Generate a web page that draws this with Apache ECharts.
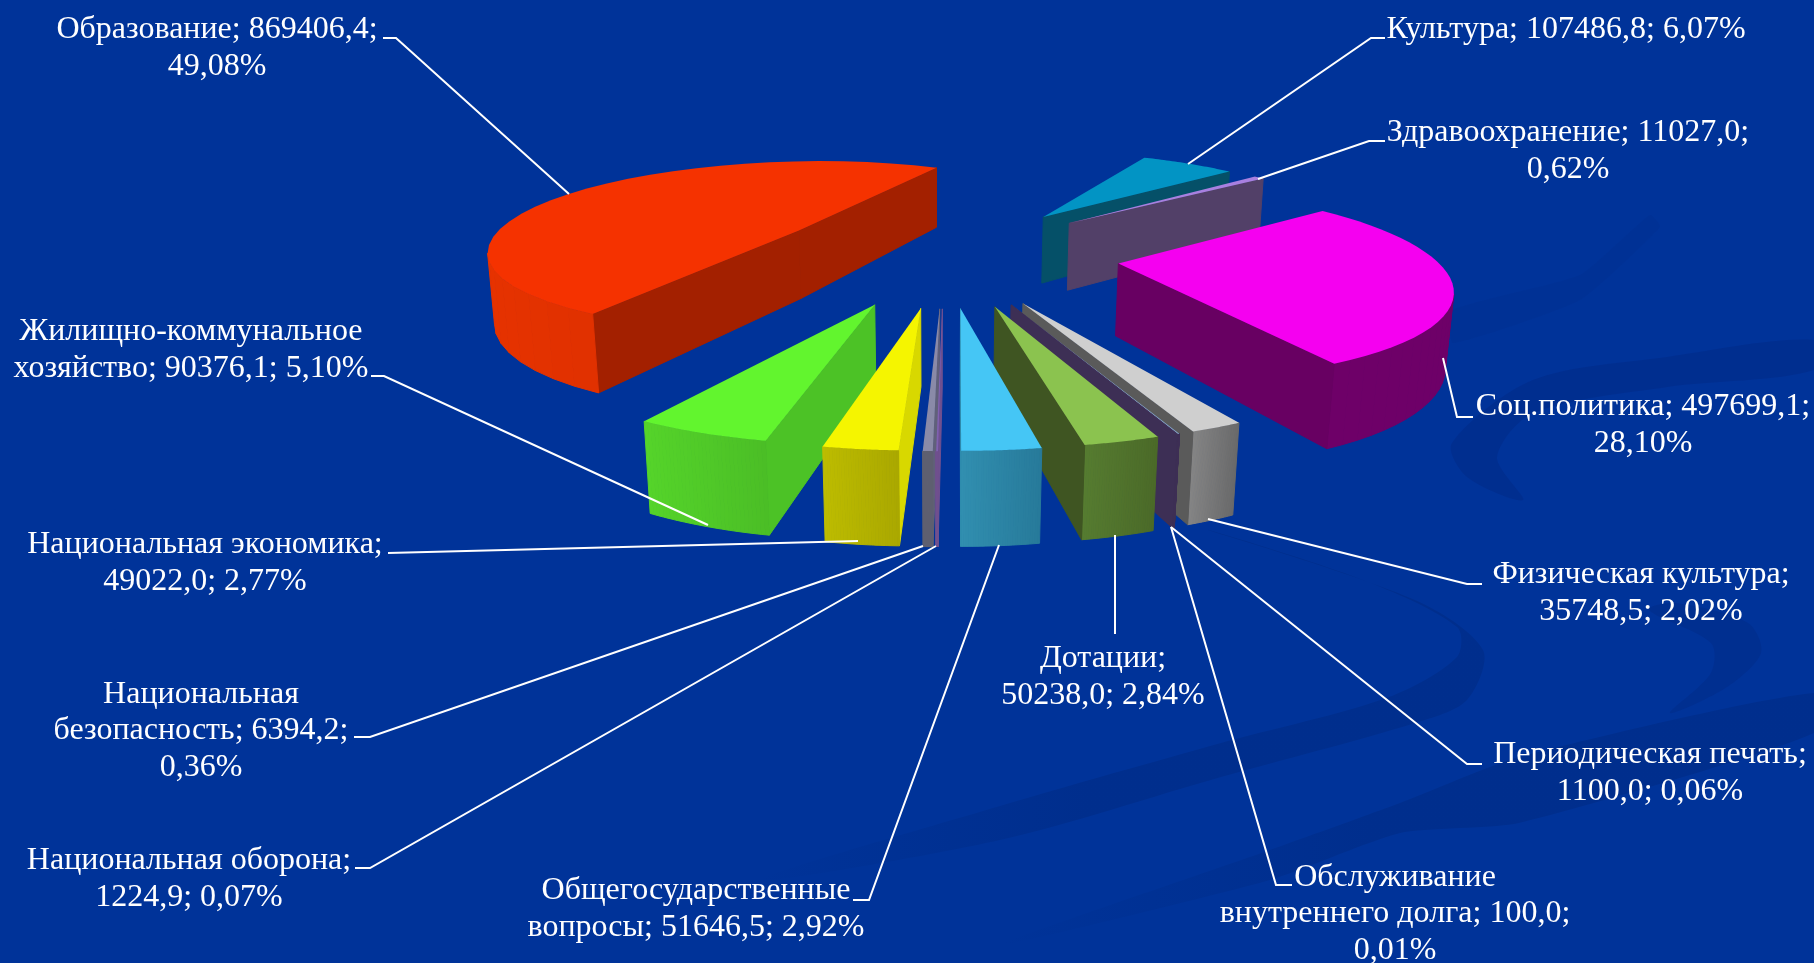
<!DOCTYPE html>
<html><head><meta charset="utf-8">
<style>html,body{margin:0;padding:0;background:#003399}#c{width:1814px;height:963px}</style>
<script src="https://cdn.jsdelivr.net/npm/echarts@6/dist/echarts.min.js"></script></head>
<body><div id="c"></div><script>
const categories=['Культура','Здравоохранение','Соц.политика','Физическая культура','Периодическая печать','Обслуживание внутреннего долга','Дотации','Общегосударственные вопросы','Национальная оборона','Национальная безопасность','Национальная экономика','Жилищно-коммунальное хозяйство','Образование'];
const values=[107486.8,11027.0,497699.1,35748.5,1100.0,100.0,50238.0,51646.5,1224.9,6394.2,49022.0,90376.1,869406.4];
const percents=['6,07','0,62','28,10','2,02','0,06','0,01','2,84','2,92','0,07','0,36','2,77','5,10','49,08'];

// perspective camera of the 3D pie: 3x4 projection of ground (u,v,z), start angle, explosion
const camera=[238.256792,273.223165,-14.576473,944.387774,14.343872,-39.838038,-76.078442,253.198514,-0.061918,0.178245,-0.015542];
const startAngle=0.132144, explosion=0.553015, seg=32;

const total=values.reduce((a,b)=>a+b,0);
const frac=[];let acc=0;values.forEach(v=>{frac.push([acc/total,(acc+v)/total]);acc+=v;});
function proj(u,v,z){const p=camera;const w=p[8]*u+p[9]*v+p[10]*z+1;return [(p[0]*u+p[1]*v+p[2]*z+p[3])/w,(p[4]*u+p[5]*v+p[6]*z+p[7])/w];}
function outline(i){const f=frac[i];const m=startAngle+Math.PI*(f[0]+f[1]);const ax=explosion*Math.sin(m),ay=explosion*Math.cos(m);const pts=[[ax,ay]];
 for(let k=0;k<=seg;k++){const ph=startAngle+2*Math.PI*(f[0]+(f[1]-f[0])*k/seg);pts.push([ax+Math.sin(ph),ay+Math.cos(ph)]);}return pts;}
// top, radial wall, rim left, rim right
const palette=[
['#0294C4','#055068','#055068','#055068'],['#A880E0','#524068','#524068','#524068'],['#F500F0','#680062','#6E0068','#6E0068'],
['#CFCFCF','#5A5A5A','#858585','#6A6A6A'],['#7F9CC0','#3D2F55','#3D2F55','#3D2F55'],['#5E4A80','#3D2F55','#3D2F55','#3D2F55'],
['#8BC34F','#3F5522','#567C30','#4B6A28'],['#45C6F5','#2F8DAE','#318FB0','#277A9A'],['#8060B0','#70508F','#70508F','#70508F'],
['#8A8AA8','#60607A','#5F6070','#5F6070'],['#F5F500','#D8D800','#BDBC00','#AAA800'],['#62F52E','#4CC226','#55D42A','#4BBE26'],['#F53200','#A32000','#E63200','#CC2E00']];
const order=[12,0,1,2,3,4,5,6,11,10,9,8,7];
const labelFont='32px "Liberation Serif"';
const labelLayout=[
{c:[1566,30],b:[],l:[[1385,38],[1371,38],[1188,164]]},
{c:[1568,151],b:[2],l:[[1385,141],[1369,141],[1258,179]]},
{c:[1643,425],b:[2],l:[[1473,417],[1457,417],[1443,358]]},
{c:[1641,593],b:[2],l:[[1482,584],[1467,584],[1208,519]]},
{c:[1650,773],b:[2],l:[[1482,764],[1467,764],[1171,527]]},
{c:[1395,914],b:[1,4],l:[[1292,885],[1276,885],[1171,527]]},
{c:[1103,677],b:[1],l:[[1115,634],[1115,535]]},
{c:[696,909],b:[1],l:[[853,900],[869,900],[999,545]]},
{c:[189,879],b:[2],l:[[355,868],[370,868],[936,546]]},
{c:[201,731],b:[1,3],l:[[354,737],[370,737],[923,546]]},
{c:[205,563],b:[2],l:[[388,553],[858,541]]},
{c:[191,350],b:[1],l:[[371,376],[384,376],[708,525]]},
{c:[217,48],b:[2],l:[[383,38],[396,38],[569,194]]}];
function labelText(i){const words=(categories[i]+'; '+values[i].toFixed(1).replace('.',',')+'; '+percents[i]+'%').split(' ');
 const b=labelLayout[i].b;return words.map((w,k)=>w+(k===words.length-1?'':(b.includes(k+1)?'\n':' '))).join('');}
const fade=a=>new echarts.graphic.LinearGradient(0,0,1,0,[{offset:0,color:'rgba(0,44,136,0)'},{offset:0.45,color:'rgba(0,44,136,'+a+')'},{offset:1,color:'rgba(0,44,136,'+a+')'}]);
const swooshes=[
{f:fade(0.7),s:0.3,p:[[760,880],[1000,806],[1221,743],[1389,697],[1457,657],[1457,627],[1363,580],[1208,530],[1415,600],[1483,650],[1467,700],[1415,723],[1221,777],[1000,840]]},
{f:fade(0.7),s:0.2,p:[[1000,945],[1270,850],[1400,803],[1519,757],[1814,693],[1814,733],[1519,823],[1400,833],[1270,880]]},
{f:'rgba(0,44,136,0.55)',s:0.3,p:[[1670,713],[1727,687],[1761,653],[1748,623],[1675,603],[1649,610],[1711,643],[1711,673]]},
{f:'rgba(0,44,136,0.6)',s:0.3,p:[[1452,443],[1533,380],[1667,357],[1814,340],[1814,370],[1667,387],[1533,413],[1497,457],[1523,500],[1467,477]]},
{f:'rgba(0,44,136,0.2)',s:0.15,p:[[1453,310],[1580,275],[1650,215],[1660,227],[1580,300],[1453,343]]}];
const chart=echarts.init(document.getElementById('c'));
const graphic=swooshes.map(s=>({type:'polygon',silent:true,z:0,shape:{points:s.p,smooth:s.s},style:{fill:s.f}}));
chart.setOption({backgroundColor:'#003399',animation:false,graphic,
 series:[{type:'custom',coordinateSystem:'none',z:2,data:order.map(i=>[i]),renderItem(par,api){const i=api.value(0);const out=outline(i);const ch=[];const pal=palette[i];
  const t=out.map(q=>proj(q[0],q[1],0)),b=out.map(q=>proj(q[0],q[1],-1));
  const xs=t.slice(1).map(q=>q[0]),x0=Math.min(...xs),x1=Math.max(...xs);
  for(let k=0;k<out.length;k++){const n=(k+1)%out.length;const Q=[t[k],t[n],b[n],b[k]];let s=0;for(let m=0;m<4;m++){const A=Q[m],B=Q[(m+1)%4];s+=A[0]*B[1]-B[0]*A[1];}
   if(s<0){const wall=(k===0||k===out.length-1);const col=wall?pal[1]:echarts.color.lerp(Math.min(1,Math.max(0,((t[k][0]+t[n][0])/2-x0)/Math.max(1,x1-x0))),[pal[2],pal[3]]);
    ch.push({type:'polygon',shape:{points:Q},style:{fill:col,stroke:col,lineWidth:1}});}}
  ch.push({type:'polygon',shape:{points:t},style:{fill:pal[0]}});return {type:'group',children:ch};}},
 {type:'custom',coordinateSystem:'none',z:3,data:values.map((v,i)=>[i]),renderItem(par,api){const i=api.value(0);const L=labelLayout[i];
  return {type:'group',children:[{type:'polyline',shape:{points:L.l},style:{stroke:'#fff',lineWidth:2,fill:null}},
   {type:'text',x:L.c[0],y:L.c[1],style:{text:labelText(i),fill:'#fff',font:labelFont,lineHeight:36.5,align:'center',verticalAlign:'middle'}}]};}}]});
</script></body></html>
